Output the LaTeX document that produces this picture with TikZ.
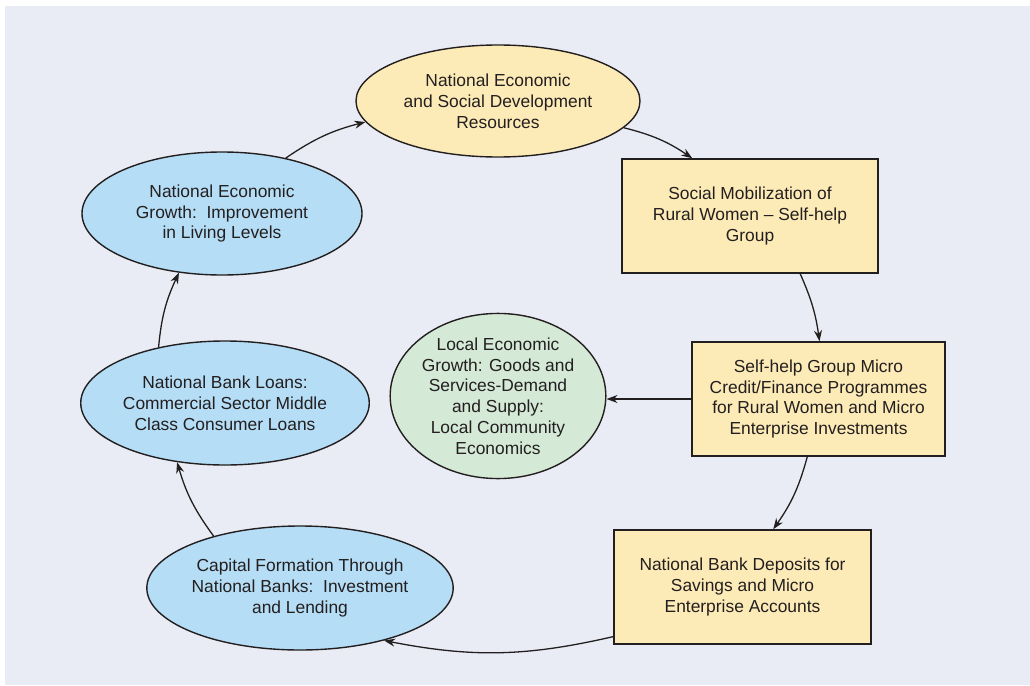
\documentclass[tikz,border=0pt]{standalone}
\usepackage{fontspec}
\setmainfont{Liberation Sans}
\usetikzlibrary{shapes.geometric,arrows.meta}
\definecolor{panel}{HTML}{E9ECF4}
\definecolor{yel}{HTML}{FDEBB7}
\definecolor{blu}{HTML}{B5DDF5}
\definecolor{grn}{HTML}{D4E9D6}
\definecolor{ink}{HTML}{231F20}
\tikzset{
  lbl/.style={font=\fontsize{17.4}{20.8}\selectfont, text=ink, align=center, inner sep=0pt},
  ell/.style={lbl, ellipse, draw=ink, line width=1.4pt},
  boxnode/.style={lbl, rectangle, draw=ink, line width=1.4pt, fill=yel},
  conn/.style={draw=ink, line width=1.3pt, -{Stealth[length=11pt,width=8pt]}}
}
\begin{document}
\begin{tikzpicture}[x=1pt,y=-1pt]
\useasboundingbox (0,0) rectangle (1030,685);
\fill[white] (0,0) rectangle (1030,685);
\fill[panel] (5,6) rectangle (1030,685);

\node[ell, fill=yel, minimum width=284pt, minimum height=112pt] (res) at (498,101)
  {National Economic\\and Social Development\\Resources};
\node[boxnode, minimum width=256pt, minimum height=114pt] (soc) at (750,216)
  {Social Mobilization of\\Rural Women -- Self-help\\Group};
\node[boxnode, minimum width=253pt, minimum height=114pt] (shg) at (818.5,399)
  {Self-help Group Micro\\Credit/Finance Programmes\\for Rural Women and Micro\\Enterprise Investments};
\node[ell, fill=grn, minimum width=206pt, minimum height=162pt] (loc) at (498,396)
  {Local Economic\\Growth: Goods and\\Services-Demand\\and Supply:\\Local Community\\Economics};
\node[boxnode, minimum width=257pt, minimum height=114pt] (dep) at (742.5,587)
  {National Bank Deposits for\\Savings and Micro\\Enterprise Accounts};
\node[ell, fill=blu, minimum width=284pt, minimum height=124pt] (cap) at (300,588)
  {Capital Formation Through\\National Banks:\ \ Investment\\and Lending};
\node[ell, fill=blu, minimum width=284pt, minimum height=124pt] (loan) at (225,403)
  {National Bank Loans:\\Commercial Sector Middle\\Class Consumer Loans};
\node[ell, fill=blu, minimum width=280pt, minimum height=123pt] (grow) at (222,213.5)
  {National Economic\\Growth:\ \ Improvement\\in Living Levels};

\draw[conn] (res.-12) to[bend left=10] (soc.135);
\draw[conn] (soc.-49) to[bend left=8] (shg.89);
\draw[conn] (shg.west) -- (shg.west -| loc.east);
\draw[conn] (shg.259) to[bend left=10] (dep.62);
\draw[conn] (dep.201) to[bend left=12] (cap.-32);
\draw[conn] (cap.149) to[bend left=10] (loan.231);
\draw[conn] (loan.140) to[bend left=10] (grow.234);
\draw[conn] (grow.41) to[bend left=10] (res.189);
\end{tikzpicture}
\end{document}
